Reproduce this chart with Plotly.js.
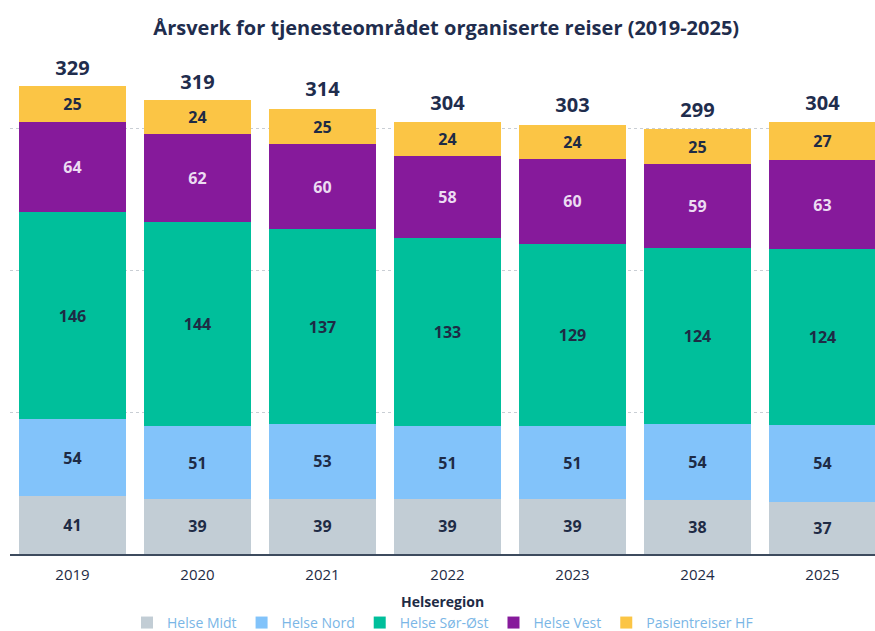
<!DOCTYPE html>
<html>
<head>
<meta charset="utf-8">
<script src="https://cdn.plot.ly/plotly-3.0.1.min.js"></script>
<style>html,body{margin:0;padding:0;background:#fff;}#chart{width:875px;height:631px;}</style>
</head>
<body>
<div id="chart"></div>
<script>
const years = ["2019", "2020", "2021", "2022", "2023", "2024", "2025"];
const helseMidt = [41, 39, 39, 39, 39, 38, 37];
const helseNord = [54, 51, 53, 51, 51, 54, 54];
const helseSorOst = [146, 144, 137, 133, 129, 124, 124];
const helseVest = [64, 62, 60, 58, 60, 59, 63];
const pasientreiser = [25, 24, 25, 24, 24, 25, 27];
const totals = [329, 319, 314, 304, 303, 299, 304];

const seriesNames = ["Helse Midt", "Helse Nord", "Helse Sør-Øst", "Helse Vest", "Pasientreiser HF"];
const seriesValues = [helseMidt, helseNord, helseSorOst, helseVest, pasientreiser];
const seriesColors = ["#c2cdd5", "#82c3fa", "#00bf9b", "#861a9b", "#fbc545"];
const labelColors = ["#1e2b45", "#1e2b45", "#1e2b45", "#ecdcf2", "#1e2b45"];

const font = "'Open Sans', 'Noto Sans', sans-serif";

const traces = seriesNames.map((name, i) => ({
  type: "bar",
  name: name,
  x: years,
  y: seriesValues[i],
  text: seriesValues[i].map(String),
  textposition: "inside",
  insidetextanchor: "middle",
  constraintext: "none",
  textangle: 0,
  textfont: {family: font, size: 16, color: labelColors[i], weight: "bold"},
  marker: {color: seriesColors[i], line: {width: 0}},
  hoverinfo: "skip"
}));

traces.push({
  type: "scatter",
  mode: "markers+text",
  x: years,
  y: totals,
  text: totals.map(String),
  textposition: "top center",
  marker: {size: 11, opacity: 0},
  textfont: {family: font, size: 20, color: "#1f2d4d", weight: "bold"},
  showlegend: false,
  hoverinfo: "skip",
  cliponaxis: false
});

const layout = {
  width: 875,
  height: 631,
  margin: {l: 10, r: 0, t: 65, b: 77, autoexpand: false},
  paper_bgcolor: "#ffffff",
  plot_bgcolor: "#ffffff",
  barmode: "stack",
  bargap: 0.15,
  font: {family: font, color: "#1e2b45"},
  title: {
    text: "Årsverk for tjenesteområdet organiserte reiser (2019-2025)",
    font: {family: font, size: 20, color: "#1f2d4d", weight: "bold"},
    x: 0.51, xanchor: "center",
    y: 0.955, yanchor: "middle", yref: "container"
  },
  xaxis: {
    type: "category",
    range: [-0.5, 6.42],
    showgrid: false,
    showline: true,
    linecolor: "#3d4b5e",
    linewidth: 2,
    ticks: "",
    ticklabelstandoff: 6,
    tickfont: {family: font, size: 15, color: "#1e2b45"},
    fixedrange: true
  },
  yaxis: {
    range: [0, 345],
    showticklabels: false,
    tickvals: [100, 200, 300],
    showgrid: true,
    gridcolor: "#c9ced4",
    griddash: "dot",
    gridwidth: 1,
    zeroline: false,
    showline: false,
    fixedrange: true
  },
  showlegend: true,
  legend: {
    orientation: "h",
    x: 0.5, xanchor: "center",
    y: -0.141, yanchor: "middle",
    traceorder: "normal",
    font: {family: font, size: 14, color: "#7ab6e6", weight: 500},
    itemwidth: 30,
    itemsizing: "constant",
    tracegroupgap: 0
  },
  annotations: [{
    text: "<b>Helseregion</b>",
    xref: "paper", yref: "paper",
    x: 0.5, y: -0.097,
    xanchor: "center", yanchor: "middle",
    showarrow: false,
    font: {family: font, size: 14, color: "#1e2b45"}
  }]
};

Plotly.newPlot("chart", traces, layout, {displayModeBar: false, staticPlot: true});
</script>
</body>
</html>
